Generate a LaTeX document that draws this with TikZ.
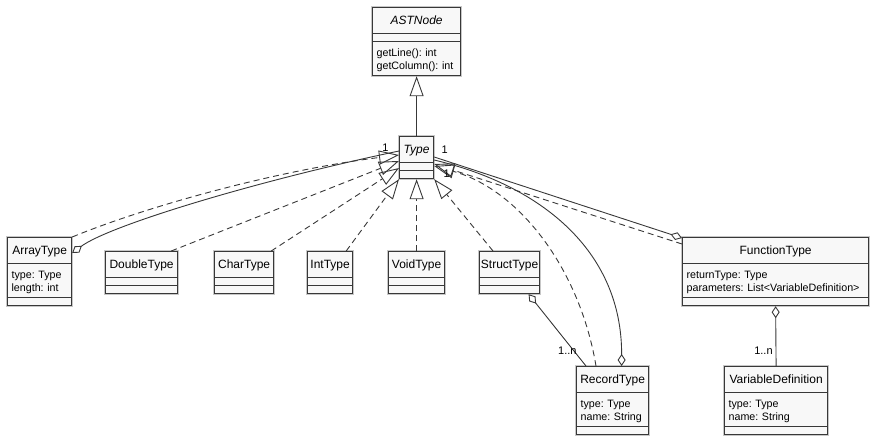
\documentclass[tikz,border=0pt]{standalone}
\usepackage{fontspec}
\setmainfont{Liberation Sans}
\usetikzlibrary{arrows.meta,shapes.multipart,calc}

\definecolor{umlline}{HTML}{383838}
\definecolor{umlfill}{HTML}{F8F8F8}

\newcommand{\cname}[1]{\makebox[\linewidth]{\rule[-8.3pt]{0pt}{24.8pt}\fontsize{12}{14}\selectfont #1}}
\newcommand{\cempty}{\rule{0pt}{6.8pt}}
\newcommand{\cattr}[2]{\rule{0pt}{13.8pt}#1\\#2\rule[-6pt]{0pt}{6pt}}

\begin{document}
\frenchspacing
\begin{tikzpicture}[x=1pt,y=-1pt,
		class/.style={rectangle split,rectangle split parts=3,draw=umlline,fill=umlfill,
			line width=1.2pt,inner xsep=4pt,inner ysep=0pt,align=left,anchor=north west,
			preaction={draw=black!22,line width=2.8pt},
			font=\fontsize{10.7}{13}\selectfont},
		impl/.style={draw=umlline,line width=0.9pt,dash pattern=on 6pt off 4pt,
			-{Triangle[open,length=20pt,width=14pt]}},
		inherit/.style={draw=umlline,line width=0.9pt,-{Triangle[open,length=20pt,width=14pt]}},
		aggr/.style={draw=umlline,line width=0.9pt,{Diamond[open,length=12pt,width=8pt]}-},
		mult/.style={font=\fontsize{11}{13}\selectfont,inner sep=0pt}
	]
	\useasboundingbox (0,0) rectangle (874,440);
	
	\node[class,text width=80pt] (ast) at (372,7) {\cname{\textit{ASTNode}}\nodepart{second}\cempty
		\nodepart{third}\cattr{getLine(): int}{getColumn(): int}};
	\node[class,text width=26pt] (type) at (399,136) {\cname{\textit{Type}}\nodepart{second}\cempty\nodepart{third}\cempty};
	
	\node[class,text width=56pt] (array) at (7,237) {\cname{ArrayType}\nodepart{second}\cattr{type: Type}{length: int}
		\nodepart{third}\cempty};
	\node[class,text width=64pt] (double) at (105,251) {\cname{DoubleType}\nodepart{second}\cempty\nodepart{third}\cempty};
	\node[class,text width=51pt] (char) at (214,251) {\cname{CharType}\nodepart{second}\cempty\nodepart{third}\cempty};
	\node[class,text width=37pt] (int) at (307,251) {\cname{IntType}\nodepart{second}\cempty\nodepart{third}\cempty};
	\node[class,text width=48pt] (void) at (388,251) {\cname{VoidType}\nodepart{second}\cempty\nodepart{third}\cempty};
	\node[class,text width=52pt] (struct) at (479,251) {\cname{StructType}\nodepart{second}\cempty\nodepart{third}\cempty};
	\node[class,text width=178pt] (function) at (682,237) {\cname{FunctionType}
		\nodepart{second}\cattr{returnType: Type}{parameters: List<VariableDefinition>}\nodepart{third}\cempty};
	\node[class,text width=64pt] (record) at (576,366) {\cname{RecordType}\nodepart{second}\cattr{type: Type}{name: String}
		\nodepart{third}\cempty};
	\node[class,text width=95pt] (vardef) at (724,366) {\cname{VariableDefinition}
		\nodepart{second}\cattr{type: Type}{name: String}\nodepart{third}\cempty};
	
	% generalisation and realisations
	\path
	(type.north) edge[inherit] (ast.south)
	($(double.north east)+(-7,0)$) edge[impl] ($(type.north west)+(0,25)$)
	($(char.north east)+(-3,0)$) edge[impl] ($(type.north west)+(0,32)$)
	($(int.north east)+(-7,0)$) edge[impl] (type.south west)
	(void.north) edge[impl] (type.south)
	($(struct.north west)+(14,0)$) edge[impl] (type.south east)
	($(function.north west)+(0,7)$) edge[impl] ($(type.north east)+(0,28)$)
	;
	\draw[impl] (array.north east) .. controls (150,205) and (280,170) .. ($(type.north west)+(0,19)$);
	\draw[impl] ($(record.north west)+(20,0)$) .. controls (580,270) and (520,190) .. ($(type.north east)+(0,30)$);
	
	% aggregations
	\draw[aggr] ($(array.north east)+(0,16)$) .. controls (110,225) and (260,180) .. ($(type.north west)+(0,15)$)
	node[mult,at end,anchor=east,xshift=-10pt,yshift=3pt] {1};
	\draw[aggr] ($(record.north)+(9,0)$) .. controls (622,250) and (540,185) .. ($(type.north east)+(0,24)$)
	node[mult,at end,anchor=west,xshift=9pt,yshift=-14pt] {1};
	\path
	($(function.north west)+(0,1)$) edge[aggr] node[mult,at end,anchor=west,xshift=7pt,yshift=7pt] {1} ($(type.north east)+(0,21)$)
	($(struct.south)+(19,0)$) edge[aggr] node[mult,at end,anchor=base east,xshift=-9pt,yshift=11.5pt] {1..n} ($(record.north west)+(10,0)$)
	(function.south) edge[aggr] node[mult,at end,anchor=base east,xshift=-3pt,yshift=11.5pt] {1..n} (vardef.north)
	;
\end{tikzpicture}
\end{document}
